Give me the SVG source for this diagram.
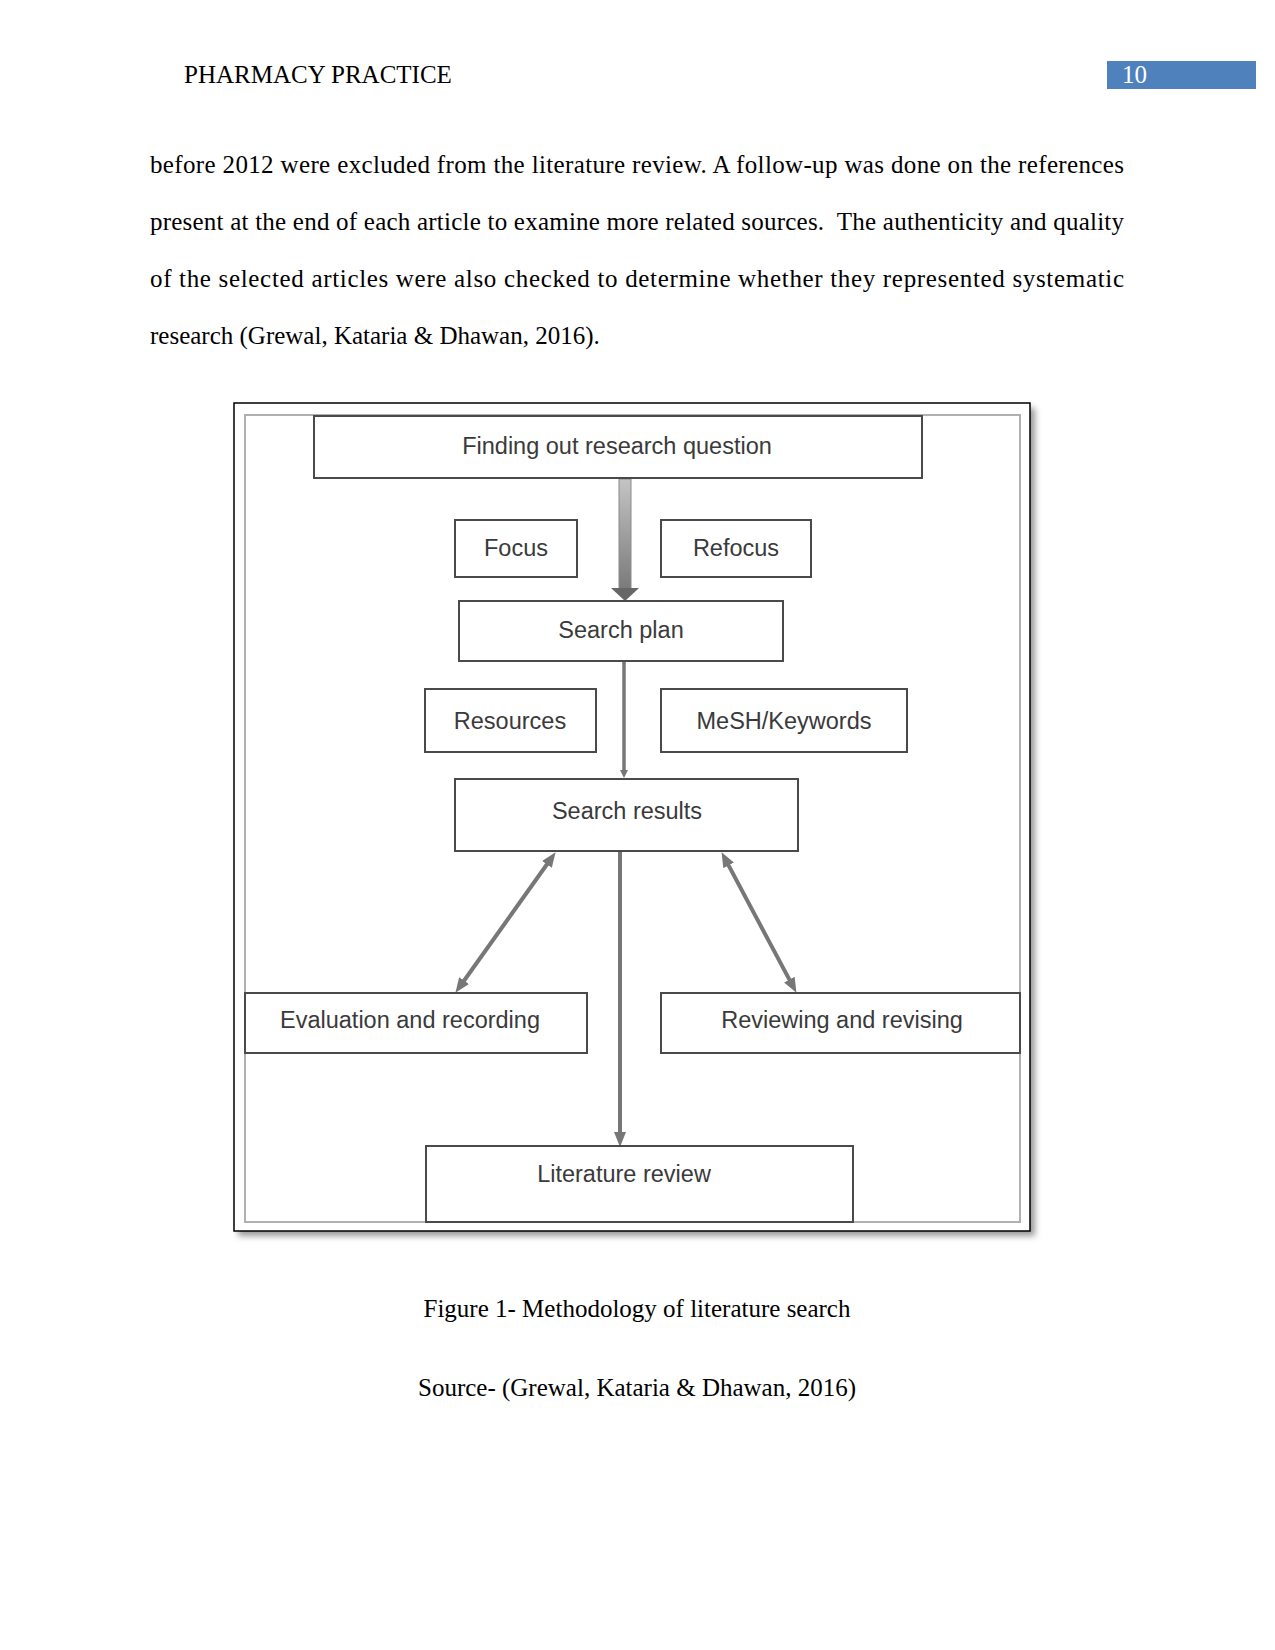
<svg xmlns="http://www.w3.org/2000/svg" width="1275" height="1650" viewBox="0 0 1275 1650">
<style>
.serif{font-family:"Liberation Serif","Times New Roman",serif;font-size:25px;fill:#000}
.node rect{fill:#fff;stroke:#4a4a4a;stroke-width:2}
.node text{font-family:"Liberation Sans",Arial,sans-serif;font-size:23.5px;fill:#3a3a3a;text-anchor:middle}
.conn{stroke:#777;stroke-width:4;fill:none}
</style>
<defs>
<marker id="ah" markerUnits="userSpaceOnUse" markerWidth="16" markerHeight="14" refX="6" refY="6" orient="auto-start-reverse">
<path d="M0,0 L15,6 L0,12 z" fill="#777"/>
</marker>
<marker id="ahs" markerUnits="userSpaceOnUse" markerWidth="10" markerHeight="10" refX="3" refY="4" orient="auto">
<path d="M0,0 L8,4 L0,8 z" fill="#777"/>
</marker>
<linearGradient id="shaft" x1="0" y1="0" x2="0" y2="1">
<stop offset="0" stop-color="#c4c4c4"/>
<stop offset="1" stop-color="#7a7a7a"/>
</linearGradient>
<filter id="sh" x="-5%" y="-5%" width="110%" height="110%">
<feGaussianBlur stdDeviation="3"/>
</filter>
</defs>
<rect width="1275" height="1650" fill="#fff"/>

<g id="header">
<text class="serif" x="184" y="83">PHARMACY PRACTICE</text>
<rect x="1107" y="61" width="149" height="28" fill="#4f81bd"/>
<text class="serif" x="1122" y="83" style="fill:#fff">10</text>
</g>

<g id="body">
<text class="serif" x="150" y="173" textLength="974" lengthAdjust="spacing">before 2012 were excluded from the literature review. A follow-up was done on the references</text>
<text class="serif" x="150" y="230" textLength="974" lengthAdjust="spacing">present at the end of each article to examine more related sources.&#160; The authenticity and quality</text>
<text class="serif" x="150" y="287" textLength="974" lengthAdjust="spacing">of the selected articles were also checked to determine whether they represented systematic</text>
<text class="serif" x="150" y="344">research (Grewal, Kataria &amp; Dhawan, 2016).</text>
</g>

<g id="frame">
<rect x="238" y="408" width="797" height="828" fill="#999" filter="url(#sh)"/>
<rect x="234" y="403" width="796" height="828" fill="#fff" stroke="#000" stroke-width="1.5"/>
<rect x="245" y="415" width="775" height="807" fill="#fff" stroke="#b0b0b0" stroke-width="2"/>
</g>

<g id="connectors">
<rect x="619" y="479" width="12" height="110" fill="url(#shaft)" stroke="#8a8a8a" stroke-width="1"/>
<polygon points="611,588 639,588 625,601" fill="#666"/>
<line class="conn" x1="624" y1="661" x2="624" y2="773" style="stroke-width:3.5" marker-end="url(#ahs)"/>
<line class="conn" x1="620" y1="852" x2="620" y2="1138" marker-end="url(#ah)"/>
<line class="conn" x1="550.4" y1="859.5" x2="460.6" y2="985.5" marker-start="url(#ah)" marker-end="url(#ah)"/>
<line class="conn" x1="725.8" y1="860.1" x2="792.2" y2="984.9" marker-start="url(#ah)" marker-end="url(#ah)"/>
</g>

<g id="n-question" class="node"><rect x="314" y="416" width="608" height="62"/><text x="617" y="454">Finding out research question</text></g>
<g id="n-focus" class="node"><rect x="455" y="520" width="122" height="57"/><text x="516" y="556">Focus</text></g>
<g id="n-refocus" class="node"><rect x="661" y="520" width="150" height="57"/><text x="736" y="556">Refocus</text></g>
<g id="n-plan" class="node"><rect x="459" y="601" width="324" height="60"/><text x="621" y="638">Search plan</text></g>
<g id="n-resources" class="node"><rect x="425" y="689" width="171" height="63"/><text x="510" y="729">Resources</text></g>
<g id="n-mesh" class="node"><rect x="661" y="689" width="246" height="63"/><text x="784" y="729">MeSH/Keywords</text></g>
<g id="n-results" class="node"><rect x="455" y="779" width="343" height="72"/><text x="627" y="819">Search results</text></g>
<g id="n-eval" class="node"><rect x="245" y="993" width="342" height="60"/><text x="410" y="1028">Evaluation and recording</text></g>
<g id="n-review" class="node"><rect x="661" y="993" width="359" height="60"/><text x="842" y="1028">Reviewing and revising</text></g>
<g id="n-lit" class="node"><rect x="426" y="1146" width="427" height="76"/><text x="624" y="1182">Literature review</text></g>

<g id="caption">
<text class="serif" x="637" y="1317" text-anchor="middle">Figure 1- Methodology of literature search</text>
<text class="serif" x="637" y="1396" text-anchor="middle">Source- (Grewal, Kataria &amp; Dhawan, 2016)</text>
</g>
</svg>
